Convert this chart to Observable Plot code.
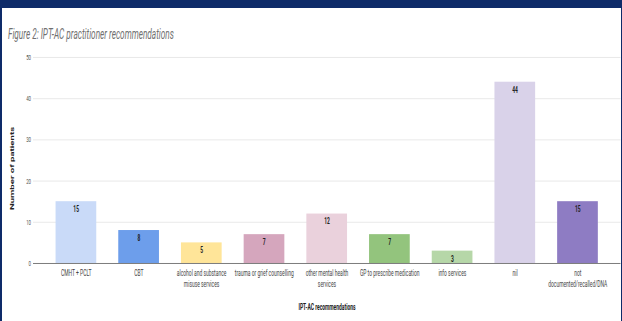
<!DOCTYPE html>
<html><head><meta charset="utf-8">
<script src="https://cdn.jsdelivr.net/npm/d3@7"></script>
<script src="https://cdn.jsdelivr.net/npm/@observablehq/plot@0.6"></script>
<style>
html,body{margin:0;padding:0;}
body{width:622px;height:321px;background:#0e2b69;position:relative;overflow:hidden;font-family:Roboto,sans-serif;}
#panel{position:absolute;left:2px;top:8px;width:619px;height:313px;background:#fff;}
#wrap{position:absolute;left:0;top:0;height:321px;transform-origin:0 0;}
#title{position:absolute;white-space:nowrap;font-style:italic;color:#707070;font-size:15px;line-height:15px;font-family:Roboto,sans-serif;}
#chart{position:absolute;left:0;top:0;}
</style></head><body>
<div id="panel"></div>
<div id="wrap"><div id="title">Figure 2: IPT-AC practitioner recommendations</div><div id="chart"></div></div>
<script>
const categories = ["CMHT + PCLT","CBT","alcohol and substance misuse services","trauma or grief counselling","other mental health services","GP to prescribe medication","info services","nil","not documented/recalled/DNA"];
const values = [15, 8, 5, 7, 12, 7, 3, 44, 15];
const tickLabels = ["CMHT + PCLT","CBT","alcohol and substance\nmisuse services","trauma or grief counselling","other mental health\nservices","GP to prescribe medication","info services","nil","not\ndocumented/recalled/DNA"];
const palette = ["#c9daf8","#6d9eeb","#ffe599","#d5a6bd","#ead1dc","#93c47d","#b6d7a8","#d9d2e9","#8e7cc3"];
const yTicks = [0, 10, 20, 30, 40, 50];

const K = 0.55;
const W = 622 / K;
const wrap = document.getElementById("wrap");
wrap.style.width = W + "px";
wrap.style.transform = `scaleX(${K})`;
const title = document.getElementById("title");
title.style.left = (8 / K) + "px";
title.style.top = "27px";

const data = categories.map((c, i) => ({category: c, value: values[i], label: tickLabels[i]}));

const chart = Plot.plot({
  width: W, height: 321,
  marginLeft: 33 / K, marginRight: 1.5 / K, marginTop: 57, marginBottom: 58,
  style: {background: "transparent", fontFamily: "Roboto, sans-serif", overflow: "visible"},
  x: {domain: categories, paddingInner: 0.35, paddingOuter: 0.34, axis: null},
  y: {domain: [0, 50], axis: null},
  color: {domain: categories, range: palette},
  marks: [
    Plot.ruleY(yTicks.filter(d => d > 0), {stroke: "#e2e2e2", strokeWidth: 1}),
    Plot.barY(data, {x: "category", y: "value", fill: "category"}),
    Plot.ruleY([0], {stroke: "#555", strokeWidth: 1}),
    Plot.text(data, {x: "category", y: "value", text: d => String(d.value), lineAnchor: "top", dy: 4, fontWeight: "bold", fontSize: 9, fill: "#1f1f1f"}),
    Plot.text(data, {x: "category", text: "label", frameAnchor: "bottom", textAnchor: "middle", lineAnchor: "top", dy: 4.5, lineHeight: 1.22, fontSize: 9, fill: "#444"}),
    Plot.text(yTicks, {y: d => d, text: d => String(d), frameAnchor: "left", textAnchor: "end", dx: -4, fontSize: 8, fill: "#555"}),
    Plot.text(["IPT-AC recommendations"], {frameAnchor: "bottom", textAnchor: "middle", lineAnchor: "top", dy: 40, fontWeight: "bold", fontSize: 9, fill: "#222"}),
    Plot.text(["Number of patients"], {frameAnchor: "left", textAnchor: "middle", dx: -38, dy: 8, rotate: -90, fontWeight: "bold", fontSize: 9.6, fill: "#222"})
  ]
});
document.getElementById("chart").appendChild(chart);
</script>
</body></html>
